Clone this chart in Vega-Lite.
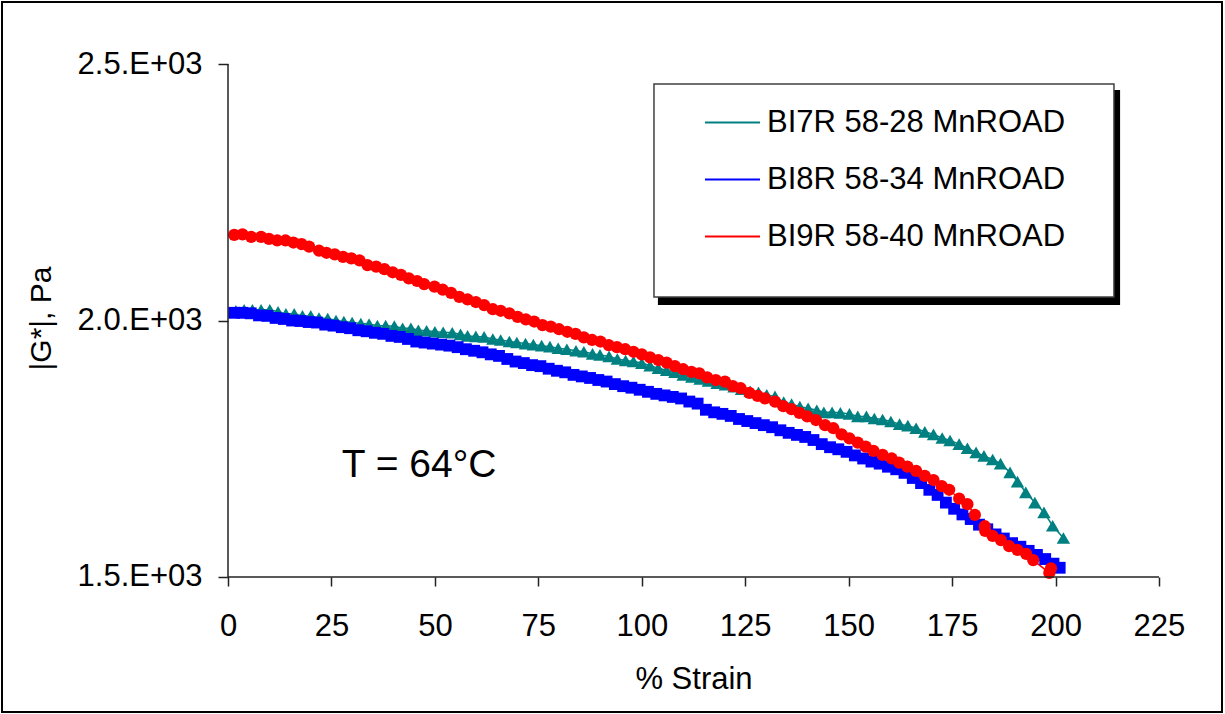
{
  "$schema": "https://vega.github.io/schema/vega-lite/v6.json",
  "width": 1220,
  "height": 710,
  "autosize": {"type": "none"},
  "padding": {"left": 2, "top": 2, "right": 3, "bottom": 2},
  "background": "white",
  "config": {
    "view": {"stroke": "black", "strokeWidth": 2},
    "font": "Liberation Sans",
    "axis": {"grid": false}
  },
  "data": {"values": [
    {"series":"BI7R 58-28 MnROAD","strain":1.9,"G":2019},{"series":"BI7R 58-28 MnROAD","strain":3.9,"G":2021},{"series":"BI7R 58-28 MnROAD","strain":5.9,"G":2021},{"series":"BI7R 58-28 MnROAD","strain":8.0,"G":2021},{"series":"BI7R 58-28 MnROAD","strain":10.1,"G":2021},{"series":"BI7R 58-28 MnROAD","strain":12.1,"G":2017},{"series":"BI7R 58-28 MnROAD","strain":14.0,"G":2013},{"series":"BI7R 58-28 MnROAD","strain":16.0,"G":2013},{"series":"BI7R 58-28 MnROAD","strain":18.0,"G":2009},{"series":"BI7R 58-28 MnROAD","strain":20.0,"G":2009},
    {"series":"BI7R 58-28 MnROAD","strain":22.0,"G":2005},{"series":"BI7R 58-28 MnROAD","strain":24.1,"G":2004},{"series":"BI7R 58-28 MnROAD","strain":26.1,"G":2000},{"series":"BI7R 58-28 MnROAD","strain":28.0,"G":1998},{"series":"BI7R 58-28 MnROAD","strain":30.0,"G":1996},{"series":"BI7R 58-28 MnROAD","strain":32.1,"G":1994},{"series":"BI7R 58-28 MnROAD","strain":34.1,"G":1993},{"series":"BI7R 58-28 MnROAD","strain":36.1,"G":1990},{"series":"BI7R 58-28 MnROAD","strain":38.1,"G":1990},{"series":"BI7R 58-28 MnROAD","strain":40.2,"G":1989},
    {"series":"BI7R 58-28 MnROAD","strain":42.2,"G":1985},{"series":"BI7R 58-28 MnROAD","strain":44.2,"G":1985},{"series":"BI7R 58-28 MnROAD","strain":46.0,"G":1981},{"series":"BI7R 58-28 MnROAD","strain":48.0,"G":1980},{"series":"BI7R 58-28 MnROAD","strain":50.0,"G":1978},{"series":"BI7R 58-28 MnROAD","strain":52.0,"G":1977},{"series":"BI7R 58-28 MnROAD","strain":54.2,"G":1976},{"series":"BI7R 58-28 MnROAD","strain":56.2,"G":1973},{"series":"BI7R 58-28 MnROAD","strain":57.9,"G":1970},{"series":"BI7R 58-28 MnROAD","strain":59.9,"G":1969},
    {"series":"BI7R 58-28 MnROAD","strain":61.9,"G":1968},{"series":"BI7R 58-28 MnROAD","strain":64.0,"G":1964},{"series":"BI7R 58-28 MnROAD","strain":65.9,"G":1962},{"series":"BI7R 58-28 MnROAD","strain":68.0,"G":1959},{"series":"BI7R 58-28 MnROAD","strain":69.8,"G":1957},{"series":"BI7R 58-28 MnROAD","strain":71.9,"G":1955},{"series":"BI7R 58-28 MnROAD","strain":73.8,"G":1953},{"series":"BI7R 58-28 MnROAD","strain":75.8,"G":1951},{"series":"BI7R 58-28 MnROAD","strain":77.8,"G":1949},{"series":"BI7R 58-28 MnROAD","strain":79.8,"G":1946},
    {"series":"BI7R 58-28 MnROAD","strain":81.9,"G":1944},{"series":"BI7R 58-28 MnROAD","strain":84.1,"G":1941},{"series":"BI7R 58-28 MnROAD","strain":86.0,"G":1939},{"series":"BI7R 58-28 MnROAD","strain":88.1,"G":1935},{"series":"BI7R 58-28 MnROAD","strain":89.9,"G":1933},{"series":"BI7R 58-28 MnROAD","strain":92.1,"G":1930},{"series":"BI7R 58-28 MnROAD","strain":94.1,"G":1925},{"series":"BI7R 58-28 MnROAD","strain":96.1,"G":1922},{"series":"BI7R 58-28 MnROAD","strain":98.0,"G":1920},{"series":"BI7R 58-28 MnROAD","strain":100.0,"G":1917},
    {"series":"BI7R 58-28 MnROAD","strain":102.0,"G":1912},{"series":"BI7R 58-28 MnROAD","strain":104.0,"G":1907},{"series":"BI7R 58-28 MnROAD","strain":106.0,"G":1903},{"series":"BI7R 58-28 MnROAD","strain":108.0,"G":1899},{"series":"BI7R 58-28 MnROAD","strain":110.0,"G":1894},{"series":"BI7R 58-28 MnROAD","strain":112.1,"G":1890},{"series":"BI7R 58-28 MnROAD","strain":114.1,"G":1886},{"series":"BI7R 58-28 MnROAD","strain":116.1,"G":1882},{"series":"BI7R 58-28 MnROAD","strain":118.2,"G":1878},{"series":"BI7R 58-28 MnROAD","strain":120.2,"G":1875},
    {"series":"BI7R 58-28 MnROAD","strain":122.3,"G":1871},{"series":"BI7R 58-28 MnROAD","strain":124.1,"G":1866},{"series":"BI7R 58-28 MnROAD","strain":126.2,"G":1862},{"series":"BI7R 58-28 MnROAD","strain":128.2,"G":1860},{"series":"BI7R 58-28 MnROAD","strain":130.2,"G":1855},{"series":"BI7R 58-28 MnROAD","strain":132.2,"G":1852},{"series":"BI7R 58-28 MnROAD","strain":134.3,"G":1841},{"series":"BI7R 58-28 MnROAD","strain":136.2,"G":1837},{"series":"BI7R 58-28 MnROAD","strain":138.2,"G":1832},{"series":"BI7R 58-28 MnROAD","strain":140.2,"G":1829},
    {"series":"BI7R 58-28 MnROAD","strain":142.3,"G":1825},{"series":"BI7R 58-28 MnROAD","strain":144.0,"G":1821},{"series":"BI7R 58-28 MnROAD","strain":146.0,"G":1821},{"series":"BI7R 58-28 MnROAD","strain":148.0,"G":1820},{"series":"BI7R 58-28 MnROAD","strain":150.2,"G":1818},{"series":"BI7R 58-28 MnROAD","strain":152.2,"G":1813},{"series":"BI7R 58-28 MnROAD","strain":154.3,"G":1813},{"series":"BI7R 58-28 MnROAD","strain":156.2,"G":1809},{"series":"BI7R 58-28 MnROAD","strain":158.2,"G":1807},{"series":"BI7R 58-28 MnROAD","strain":160.2,"G":1803},
    {"series":"BI7R 58-28 MnROAD","strain":162.3,"G":1798},{"series":"BI7R 58-28 MnROAD","strain":164.3,"G":1795},{"series":"BI7R 58-28 MnROAD","strain":166.3,"G":1790},{"series":"BI7R 58-28 MnROAD","strain":168.4,"G":1783},{"series":"BI7R 58-28 MnROAD","strain":170.5,"G":1778},{"series":"BI7R 58-28 MnROAD","strain":172.6,"G":1771},{"series":"BI7R 58-28 MnROAD","strain":174.5,"G":1766},{"series":"BI7R 58-28 MnROAD","strain":176.7,"G":1759},{"series":"BI7R 58-28 MnROAD","strain":178.7,"G":1751},{"series":"BI7R 58-28 MnROAD","strain":180.8,"G":1743},
    {"series":"BI7R 58-28 MnROAD","strain":182.7,"G":1736},{"series":"BI7R 58-28 MnROAD","strain":184.8,"G":1729},{"series":"BI7R 58-28 MnROAD","strain":186.7,"G":1721},{"series":"BI7R 58-28 MnROAD","strain":189.0,"G":1704},{"series":"BI7R 58-28 MnROAD","strain":190.8,"G":1686},{"series":"BI7R 58-28 MnROAD","strain":192.8,"G":1665},{"series":"BI7R 58-28 MnROAD","strain":195.0,"G":1645},{"series":"BI7R 58-28 MnROAD","strain":197.2,"G":1626},{"series":"BI7R 58-28 MnROAD","strain":199.3,"G":1600},{"series":"BI7R 58-28 MnROAD","strain":201.9,"G":1576},

    {"series":"BI8R 58-34 MnROAD","strain":1.5,"G":2015},{"series":"BI8R 58-34 MnROAD","strain":3.5,"G":2015},{"series":"BI8R 58-34 MnROAD","strain":5.5,"G":2014},{"series":"BI8R 58-34 MnROAD","strain":7.5,"G":2010},{"series":"BI8R 58-34 MnROAD","strain":9.5,"G":2009},{"series":"BI8R 58-34 MnROAD","strain":11.5,"G":2005},{"series":"BI8R 58-34 MnROAD","strain":13.5,"G":2003},{"series":"BI8R 58-34 MnROAD","strain":15.5,"G":2000},{"series":"BI8R 58-34 MnROAD","strain":17.5,"G":1999},{"series":"BI8R 58-34 MnROAD","strain":19.5,"G":1997},
    {"series":"BI8R 58-34 MnROAD","strain":21.5,"G":1996},{"series":"BI8R 58-34 MnROAD","strain":23.5,"G":1992},{"series":"BI8R 58-34 MnROAD","strain":25.5,"G":1990},{"series":"BI8R 58-34 MnROAD","strain":27.5,"G":1987},{"series":"BI8R 58-34 MnROAD","strain":29.5,"G":1985},{"series":"BI8R 58-34 MnROAD","strain":31.5,"G":1981},{"series":"BI8R 58-34 MnROAD","strain":33.5,"G":1979},{"series":"BI8R 58-34 MnROAD","strain":35.5,"G":1976},{"series":"BI8R 58-34 MnROAD","strain":37.5,"G":1974},{"series":"BI8R 58-34 MnROAD","strain":39.5,"G":1970},
    {"series":"BI8R 58-34 MnROAD","strain":41.5,"G":1968},{"series":"BI8R 58-34 MnROAD","strain":43.5,"G":1964},{"series":"BI8R 58-34 MnROAD","strain":45.5,"G":1959},{"series":"BI8R 58-34 MnROAD","strain":47.5,"G":1957},{"series":"BI8R 58-34 MnROAD","strain":49.5,"G":1955},{"series":"BI8R 58-34 MnROAD","strain":51.5,"G":1953},{"series":"BI8R 58-34 MnROAD","strain":53.5,"G":1951},{"series":"BI8R 58-34 MnROAD","strain":55.5,"G":1948},{"series":"BI8R 58-34 MnROAD","strain":57.5,"G":1944},{"series":"BI8R 58-34 MnROAD","strain":59.5,"G":1941},
    {"series":"BI8R 58-34 MnROAD","strain":61.5,"G":1938},{"series":"BI8R 58-34 MnROAD","strain":63.5,"G":1934},{"series":"BI8R 58-34 MnROAD","strain":65.5,"G":1931},{"series":"BI8R 58-34 MnROAD","strain":67.5,"G":1925},{"series":"BI8R 58-34 MnROAD","strain":69.5,"G":1920},{"series":"BI8R 58-34 MnROAD","strain":71.5,"G":1917},{"series":"BI8R 58-34 MnROAD","strain":73.5,"G":1913},{"series":"BI8R 58-34 MnROAD","strain":75.5,"G":1911},{"series":"BI8R 58-34 MnROAD","strain":77.5,"G":1906},{"series":"BI8R 58-34 MnROAD","strain":79.5,"G":1902},
    {"series":"BI8R 58-34 MnROAD","strain":81.5,"G":1899},{"series":"BI8R 58-34 MnROAD","strain":83.5,"G":1894},{"series":"BI8R 58-34 MnROAD","strain":85.5,"G":1891},{"series":"BI8R 58-34 MnROAD","strain":87.5,"G":1888},{"series":"BI8R 58-34 MnROAD","strain":89.5,"G":1884},{"series":"BI8R 58-34 MnROAD","strain":91.5,"G":1881},{"series":"BI8R 58-34 MnROAD","strain":93.5,"G":1876},{"series":"BI8R 58-34 MnROAD","strain":95.5,"G":1872},{"series":"BI8R 58-34 MnROAD","strain":97.5,"G":1869},{"series":"BI8R 58-34 MnROAD","strain":99.5,"G":1865},
    {"series":"BI8R 58-34 MnROAD","strain":101.5,"G":1861},{"series":"BI8R 58-34 MnROAD","strain":103.5,"G":1857},{"series":"BI8R 58-34 MnROAD","strain":105.5,"G":1854},{"series":"BI8R 58-34 MnROAD","strain":107.5,"G":1851},{"series":"BI8R 58-34 MnROAD","strain":109.5,"G":1848},{"series":"BI8R 58-34 MnROAD","strain":111.5,"G":1842},{"series":"BI8R 58-34 MnROAD","strain":113.5,"G":1838},{"series":"BI8R 58-34 MnROAD","strain":115.5,"G":1826},{"series":"BI8R 58-34 MnROAD","strain":117.5,"G":1821},{"series":"BI8R 58-34 MnROAD","strain":119.5,"G":1818},
    {"series":"BI8R 58-34 MnROAD","strain":121.5,"G":1814},{"series":"BI8R 58-34 MnROAD","strain":123.5,"G":1808},{"series":"BI8R 58-34 MnROAD","strain":125.5,"G":1804},{"series":"BI8R 58-34 MnROAD","strain":127.5,"G":1800},{"series":"BI8R 58-34 MnROAD","strain":129.5,"G":1796},{"series":"BI8R 58-34 MnROAD","strain":131.5,"G":1792},{"series":"BI8R 58-34 MnROAD","strain":133.5,"G":1786},{"series":"BI8R 58-34 MnROAD","strain":135.5,"G":1781},{"series":"BI8R 58-34 MnROAD","strain":137.5,"G":1777},{"series":"BI8R 58-34 MnROAD","strain":139.5,"G":1773},
    {"series":"BI8R 58-34 MnROAD","strain":141.5,"G":1767},{"series":"BI8R 58-34 MnROAD","strain":143.5,"G":1759},{"series":"BI8R 58-34 MnROAD","strain":145.5,"G":1753},{"series":"BI8R 58-34 MnROAD","strain":147.5,"G":1749},{"series":"BI8R 58-34 MnROAD","strain":149.5,"G":1744},{"series":"BI8R 58-34 MnROAD","strain":151.5,"G":1737},{"series":"BI8R 58-34 MnROAD","strain":153.5,"G":1731},{"series":"BI8R 58-34 MnROAD","strain":155.5,"G":1725},{"series":"BI8R 58-34 MnROAD","strain":157.5,"G":1721},{"series":"BI8R 58-34 MnROAD","strain":159.5,"G":1715},
    {"series":"BI8R 58-34 MnROAD","strain":161.5,"G":1710},{"series":"BI8R 58-34 MnROAD","strain":163.5,"G":1703},{"series":"BI8R 58-34 MnROAD","strain":165.5,"G":1693},{"series":"BI8R 58-34 MnROAD","strain":167.5,"G":1683},{"series":"BI8R 58-34 MnROAD","strain":169.5,"G":1670},{"series":"BI8R 58-34 MnROAD","strain":171.5,"G":1660},{"series":"BI8R 58-34 MnROAD","strain":173.5,"G":1645},{"series":"BI8R 58-34 MnROAD","strain":175.5,"G":1633},{"series":"BI8R 58-34 MnROAD","strain":177.5,"G":1622},{"series":"BI8R 58-34 MnROAD","strain":179.5,"G":1613},
    {"series":"BI8R 58-34 MnROAD","strain":181.5,"G":1602},{"series":"BI8R 58-34 MnROAD","strain":183.5,"G":1593},{"series":"BI8R 58-34 MnROAD","strain":185.5,"G":1583},{"series":"BI8R 58-34 MnROAD","strain":187.5,"G":1575},{"series":"BI8R 58-34 MnROAD","strain":189.5,"G":1566},{"series":"BI8R 58-34 MnROAD","strain":191.5,"G":1559},{"series":"BI8R 58-34 MnROAD","strain":193.5,"G":1551},{"series":"BI8R 58-34 MnROAD","strain":195.5,"G":1543},{"series":"BI8R 58-34 MnROAD","strain":197.5,"G":1535},{"series":"BI8R 58-34 MnROAD","strain":199.5,"G":1526},{"series":"BI8R 58-34 MnROAD","strain":201.0,"G":1518},

    {"series":"BI9R 58-40 MnROAD","strain":1.5,"G":2167},{"series":"BI9R 58-40 MnROAD","strain":3.5,"G":2168},{"series":"BI9R 58-40 MnROAD","strain":5.6,"G":2163},{"series":"BI9R 58-40 MnROAD","strain":8.0,"G":2163},{"series":"BI9R 58-40 MnROAD","strain":9.9,"G":2159},{"series":"BI9R 58-40 MnROAD","strain":11.9,"G":2156},{"series":"BI9R 58-40 MnROAD","strain":13.9,"G":2156},{"series":"BI9R 58-40 MnROAD","strain":15.8,"G":2152},{"series":"BI9R 58-40 MnROAD","strain":17.8,"G":2149},{"series":"BI9R 58-40 MnROAD","strain":19.6,"G":2144},
    {"series":"BI9R 58-40 MnROAD","strain":22.0,"G":2136},{"series":"BI9R 58-40 MnROAD","strain":23.8,"G":2132},{"series":"BI9R 58-40 MnROAD","strain":25.8,"G":2129},{"series":"BI9R 58-40 MnROAD","strain":27.8,"G":2124},{"series":"BI9R 58-40 MnROAD","strain":29.8,"G":2121},{"series":"BI9R 58-40 MnROAD","strain":31.8,"G":2117},{"series":"BI9R 58-40 MnROAD","strain":33.7,"G":2108},{"series":"BI9R 58-40 MnROAD","strain":35.8,"G":2105},{"series":"BI9R 58-40 MnROAD","strain":37.8,"G":2100},{"series":"BI9R 58-40 MnROAD","strain":39.8,"G":2094},
    {"series":"BI9R 58-40 MnROAD","strain":41.8,"G":2089},{"series":"BI9R 58-40 MnROAD","strain":43.7,"G":2082},{"series":"BI9R 58-40 MnROAD","strain":45.7,"G":2077},{"series":"BI9R 58-40 MnROAD","strain":47.4,"G":2071},{"series":"BI9R 58-40 MnROAD","strain":49.9,"G":2066},{"series":"BI9R 58-40 MnROAD","strain":51.9,"G":2060},{"series":"BI9R 58-40 MnROAD","strain":53.9,"G":2054},{"series":"BI9R 58-40 MnROAD","strain":55.9,"G":2046},{"series":"BI9R 58-40 MnROAD","strain":57.9,"G":2041},{"series":"BI9R 58-40 MnROAD","strain":59.9,"G":2036},
    {"series":"BI9R 58-40 MnROAD","strain":61.9,"G":2030},{"series":"BI9R 58-40 MnROAD","strain":64.0,"G":2022},{"series":"BI9R 58-40 MnROAD","strain":65.9,"G":2019},{"series":"BI9R 58-40 MnROAD","strain":68.0,"G":2014},{"series":"BI9R 58-40 MnROAD","strain":70.0,"G":2007},{"series":"BI9R 58-40 MnROAD","strain":72.0,"G":2002},{"series":"BI9R 58-40 MnROAD","strain":74.0,"G":1998},{"series":"BI9R 58-40 MnROAD","strain":76.0,"G":1991},{"series":"BI9R 58-40 MnROAD","strain":78.0,"G":1988},{"series":"BI9R 58-40 MnROAD","strain":80.0,"G":1983},
    {"series":"BI9R 58-40 MnROAD","strain":82.0,"G":1978},{"series":"BI9R 58-40 MnROAD","strain":84.0,"G":1974},{"series":"BI9R 58-40 MnROAD","strain":86.0,"G":1967},{"series":"BI9R 58-40 MnROAD","strain":88.0,"G":1962},{"series":"BI9R 58-40 MnROAD","strain":90.0,"G":1959},{"series":"BI9R 58-40 MnROAD","strain":92.0,"G":1952},{"series":"BI9R 58-40 MnROAD","strain":94.0,"G":1948},{"series":"BI9R 58-40 MnROAD","strain":96.0,"G":1944},{"series":"BI9R 58-40 MnROAD","strain":98.0,"G":1939},{"series":"BI9R 58-40 MnROAD","strain":100.0,"G":1934},
    {"series":"BI9R 58-40 MnROAD","strain":102.0,"G":1928},{"series":"BI9R 58-40 MnROAD","strain":104.0,"G":1923},{"series":"BI9R 58-40 MnROAD","strain":106.0,"G":1918},{"series":"BI9R 58-40 MnROAD","strain":108.0,"G":1911},{"series":"BI9R 58-40 MnROAD","strain":110.0,"G":1905},{"series":"BI9R 58-40 MnROAD","strain":112.0,"G":1900},{"series":"BI9R 58-40 MnROAD","strain":113.9,"G":1897},{"series":"BI9R 58-40 MnROAD","strain":115.8,"G":1889},{"series":"BI9R 58-40 MnROAD","strain":117.9,"G":1884},{"series":"BI9R 58-40 MnROAD","strain":120.1,"G":1881},
    {"series":"BI9R 58-40 MnROAD","strain":122.0,"G":1872},{"series":"BI9R 58-40 MnROAD","strain":123.9,"G":1868},{"series":"BI9R 58-40 MnROAD","strain":126.0,"G":1859},{"series":"BI9R 58-40 MnROAD","strain":128.0,"G":1853},{"series":"BI9R 58-40 MnROAD","strain":129.8,"G":1848},{"series":"BI9R 58-40 MnROAD","strain":132.2,"G":1842},{"series":"BI9R 58-40 MnROAD","strain":134.2,"G":1833},{"series":"BI9R 58-40 MnROAD","strain":136.2,"G":1827},{"series":"BI9R 58-40 MnROAD","strain":138.1,"G":1820},{"series":"BI9R 58-40 MnROAD","strain":140.0,"G":1813},
    {"series":"BI9R 58-40 MnROAD","strain":142.1,"G":1806},{"series":"BI9R 58-40 MnROAD","strain":144.3,"G":1796},{"series":"BI9R 58-40 MnROAD","strain":146.3,"G":1790},{"series":"BI9R 58-40 MnROAD","strain":148.3,"G":1778},{"series":"BI9R 58-40 MnROAD","strain":150.2,"G":1770},{"series":"BI9R 58-40 MnROAD","strain":152.2,"G":1762},{"series":"BI9R 58-40 MnROAD","strain":154.1,"G":1754},{"series":"BI9R 58-40 MnROAD","strain":156.0,"G":1746},{"series":"BI9R 58-40 MnROAD","strain":158.2,"G":1738},{"series":"BI9R 58-40 MnROAD","strain":160.4,"G":1731},
    {"series":"BI9R 58-40 MnROAD","strain":162.2,"G":1723},{"series":"BI9R 58-40 MnROAD","strain":164.2,"G":1715},{"series":"BI9R 58-40 MnROAD","strain":166.3,"G":1707},{"series":"BI9R 58-40 MnROAD","strain":168.4,"G":1697},{"series":"BI9R 58-40 MnROAD","strain":170.5,"G":1689},{"series":"BI9R 58-40 MnROAD","strain":172.5,"G":1677},{"series":"BI9R 58-40 MnROAD","strain":174.3,"G":1670},{"series":"BI9R 58-40 MnROAD","strain":176.7,"G":1653},{"series":"BI9R 58-40 MnROAD","strain":178.7,"G":1642},{"series":"BI9R 58-40 MnROAD","strain":180.5,"G":1621},
    {"series":"BI9R 58-40 MnROAD","strain":182.9,"G":1599},{"series":"BI9R 58-40 MnROAD","strain":183.0,"G":1590},{"series":"BI9R 58-40 MnROAD","strain":184.8,"G":1580},{"series":"BI9R 58-40 MnROAD","strain":186.8,"G":1572},{"series":"BI9R 58-40 MnROAD","strain":188.8,"G":1560},{"series":"BI9R 58-40 MnROAD","strain":190.8,"G":1553},{"series":"BI9R 58-40 MnROAD","strain":192.9,"G":1545},{"series":"BI9R 58-40 MnROAD","strain":194.6,"G":1533},{"series":"BI9R 58-40 MnROAD","strain":198.5,"G":1508},{"series":"BI9R 58-40 MnROAD","strain":198.9,"G":1517}
  ]},
  "layer": [
    {
      "mark": {"type": "line", "strokeWidth": 1.5},
      "encoding": {
        "x": {
          "field": "strain", "type": "quantitative",
          "scale": {"domain": [-54.62, 240.23], "nice": false, "zero": false},
          "axis": {
            "values": [0, 25, 50, 75, 100, 125, 150, 175, 200, 225],
            "offset": -135, "domain": false, "ticks": true, "tickSize": 9, "tickWidth": 1.5, "tickColor": "#222222",
            "labelFontSize": 31, "labelColor": "black", "labelPadding": 25, "labelFlush": false, "labelOverlap": false,
            "title": "% Strain", "titleFontSize": 31, "titleFontWeight": "normal", "titleColor": "black",
            "titleBaseline": "alphabetic", "titleX": 691.5, "titleY": 111
          }
        },
        "y": {
          "field": "G", "type": "quantitative",
          "scale": {"domain": [1236.84, 2620.86], "nice": false, "zero": false},
          "axis": {
            "values": [1500, 2000, 2500],
            "offset": -226, "domain": false, "ticks": true, "tickSize": 10, "tickWidth": 1.5, "tickColor": "#222222",
            "labelFontSize": 31, "labelColor": "black", "labelPadding": 16, "labelFlush": false, "labelOverlap": false, "labelBaseline": "middle",
            "labelExpr": "format(datum.value/1000, '.1f') + '.E+03'",
            "title": "|G*|, Pa", "titleFontSize": 30, "titleFontWeight": "normal", "titleColor": "black",
            "titleBaseline": "middle", "titleX": -187, "titleY": 316
          }
        },
        "stroke": {
          "field": "series", "type": "nominal",
          "scale": {"domain": ["BI9R 58-40 MnROAD", "BI8R 58-34 MnROAD", "BI7R 58-28 MnROAD"], "range": ["#FF0000", "#0000FF", "#008080"]},
          "legend": null
        }
      }
    },
    {
      "transform": [{"filter": "datum.series === 'BI7R 58-28 MnROAD'"}],
      "mark": {"type": "point", "filled": true, "opacity": 1, "strokeWidth": 0, "shape": "triangle-up", "size": 180},
      "encoding": {
        "x": {"field": "strain", "type": "quantitative", "scale": {"domain": [-54.62, 240.23], "nice": false, "zero": false}},
        "y": {"field": "G", "type": "quantitative", "scale": {"domain": [1236.84, 2620.86], "nice": false, "zero": false}},
        "color": {
          "field": "series", "type": "nominal",
          "scale": {"domain": ["BI7R 58-28 MnROAD", "BI8R 58-34 MnROAD", "BI9R 58-40 MnROAD"], "range": ["#008080", "#0000FF", "#FF0000"]},
          "legend": {
            "orient": "none", "legendX": 703, "legendY": 93, "title": null, "padding": 0,
            "symbolType": "M-1,-0.04H1V0.04H-1Z",
            "symbolSize": 3025, "symbolStrokeWidth": 0, "symbolOffset": 0, "symbolOpacity": 1,
            "labelFontSize": 31, "labelFont": "Liberation Sans", "labelColor": "black", "labelOffset": 7, "labelLimit": 0,
            "rowPadding": 14
          }
        }
      }
    },
    {
      "transform": [{"filter": "datum.series === 'BI8R 58-34 MnROAD'"}],
      "mark": {"type": "point", "filled": true, "opacity": 1, "strokeWidth": 0, "shape": "square", "size": 140},
      "encoding": {
        "x": {"field": "strain", "type": "quantitative", "scale": {"domain": [-54.62, 240.23], "nice": false, "zero": false}},
        "y": {"field": "G", "type": "quantitative", "scale": {"domain": [1236.84, 2620.86], "nice": false, "zero": false}},
        "color": {"field": "series", "type": "nominal", "scale": {"domain": ["BI7R 58-28 MnROAD", "BI8R 58-34 MnROAD", "BI9R 58-40 MnROAD"], "range": ["#008080", "#0000FF", "#FF0000"]}}
      }
    },
    {
      "transform": [{"filter": "datum.series === 'BI9R 58-40 MnROAD'"}],
      "mark": {"type": "point", "filled": true, "opacity": 1, "strokeWidth": 0, "shape": "circle", "size": 150},
      "encoding": {
        "x": {"field": "strain", "type": "quantitative", "scale": {"domain": [-54.62, 240.23], "nice": false, "zero": false}},
        "y": {"field": "G", "type": "quantitative", "scale": {"domain": [1236.84, 2620.86], "nice": false, "zero": false}},
        "color": {"field": "series", "type": "nominal", "scale": {"domain": ["BI7R 58-28 MnROAD", "BI8R 58-34 MnROAD", "BI9R 58-40 MnROAD"], "range": ["#008080", "#0000FF", "#FF0000"]}}
      }
    },
    {
      "data": {"values": [{}]},
      "mark": {"type": "rect", "fill": "black"},
      "encoding": {
        "x": {"datum": 103.9, "type": "quantitative", "scale": {"domain": [-54.62, 240.23], "nice": false, "zero": false}},
        "x2": {"datum": 215.6},
        "y": {"datum": 2449.3, "type": "quantitative", "scale": {"domain": [1236.84, 2620.86], "nice": false, "zero": false}},
        "y2": {"datum": 2030.2}
      }
    },
    {
      "data": {"values": [{}]},
      "mark": {"type": "rect", "fill": "white", "stroke": "#404040", "strokeWidth": 1.5},
      "encoding": {
        "x": {"datum": 102.95, "type": "quantitative", "scale": {"domain": [-54.62, 240.23], "nice": false, "zero": false}},
        "x2": {"datum": 214.12},
        "y": {"datum": 2461.0, "type": "quantitative", "scale": {"domain": [1236.84, 2620.86], "nice": false, "zero": false}},
        "y2": {"datum": 2045.8}
      }
    },
    {
      "data": {"values": [{}]},
      "mark": {"type": "rule", "stroke": "#222222", "strokeWidth": 1.5},
      "encoding": {
        "x": {"datum": 0, "type": "quantitative", "scale": {"domain": [-54.62, 240.23], "nice": false, "zero": false}},
        "y": {"datum": 1500, "type": "quantitative", "scale": {"domain": [1236.84, 2620.86], "nice": false, "zero": false}},
        "y2": {"datum": 2500}
      }
    },
    {
      "data": {"values": [{}]},
      "mark": {"type": "rule", "stroke": "#222222", "strokeWidth": 1.5},
      "encoding": {
        "x": {"datum": 0, "type": "quantitative", "scale": {"domain": [-54.62, 240.23], "nice": false, "zero": false}},
        "x2": {"datum": 225},
        "y": {"datum": 1500, "type": "quantitative", "scale": {"domain": [1236.84, 2620.86], "nice": false, "zero": false}}
      }
    },
    {
      "data": {"values": [{}]},
      "mark": {"type": "text", "text": "T = 64°C", "fontSize": 39, "font": "Liberation Sans", "align": "center", "baseline": "alphabetic", "color": "black"},
      "encoding": {
        "x": {"datum": 46.2, "type": "quantitative", "scale": {"domain": [-54.62, 240.23], "nice": false, "zero": false}},
        "y": {"datum": 1695.5, "type": "quantitative", "scale": {"domain": [1236.84, 2620.86], "nice": false, "zero": false}}
      }
    }
  ]
}
